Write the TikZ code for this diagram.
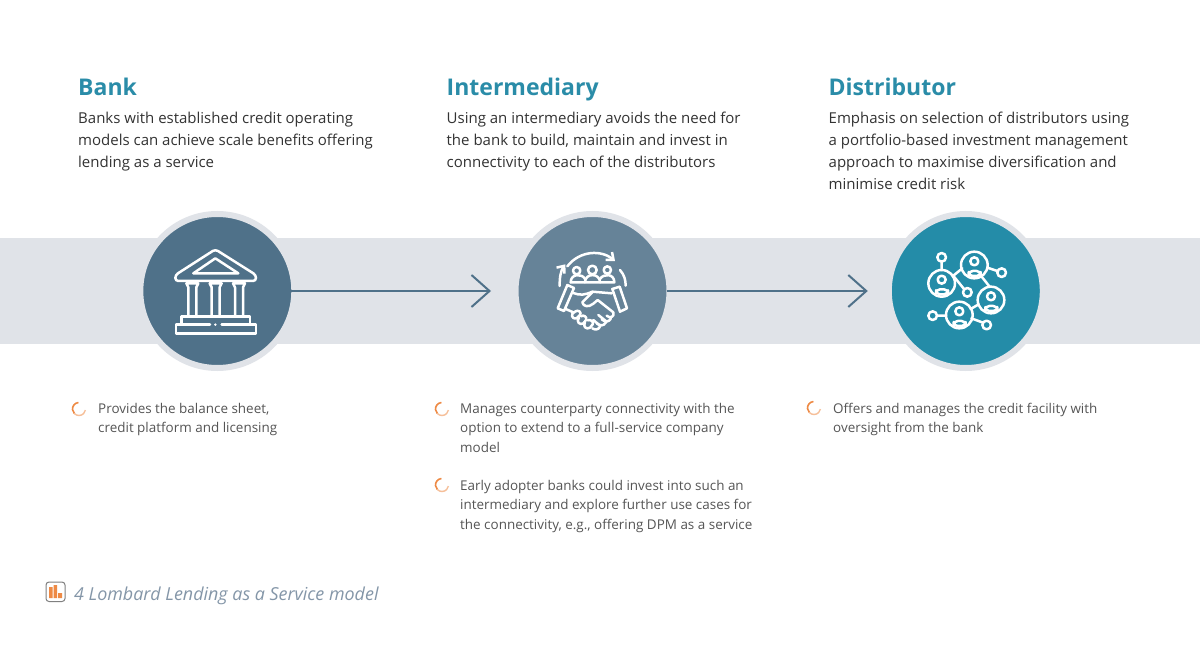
\documentclass[tikz,border=0pt]{standalone}
\usepackage{fontspec}
\setmainfont{Open Sans}
\usetikzlibrary{positioning,arrows.meta,calc}
\definecolor{bandgray}{HTML}{E0E3E8}
\definecolor{bankblue}{HTML}{4F7189}
\definecolor{midblue}{HTML}{668398}
\definecolor{distteal}{HTML}{248CA8}
\definecolor{headteal}{HTML}{2A8CA8}
\definecolor{bodygray}{HTML}{333333}
\definecolor{notegray}{HTML}{555555}
\definecolor{capgray}{HTML}{8496A8}
\definecolor{spinorange}{HTML}{EE8A45}
\tikzset{hub/.style={circle, minimum size=154pt, inner sep=0pt, draw=bandgray, line width=6pt, outer sep=-3pt}}
\tikzset{arr/.style={draw=bankblue, line width=2pt, -{Straight Barb[length=18pt,width=32pt,line width=2pt]}, shorten >=27.5pt}}
\tikzset{head/.style={anchor=base west, inner sep=0pt, text=headteal, font=\fontsize{23}{30}\selectfont\bfseries}}
\tikzset{body/.style={anchor=north west, inner sep=0pt, align=left, text=bodygray, font=\fontsize{15}{22}\selectfont}}
\tikzset{note/.style={anchor=north west, inner sep=0pt, align=left, text=notegray, font=\fontsize{13.45}{19.3}\selectfont}}
\tikzset{icon/.style={draw=white, line width=2.5pt, line join=round, line cap=round}}
\newcommand{\spinner}[1]{%
	\draw[spinorange, line width=1.6pt] ($(#1)+(265:6.5)$) arc[start angle=265,end angle=135,radius=6.5];
	\draw[spinorange!55, line width=1.4pt] ($(#1)+(135:6.5)$) arc[start angle=135,end angle=10,radius=6.5];
}
\begin{document}
\begin{tikzpicture}[x=1pt,y=-1pt]
	\useasboundingbox[fill=white] (0,0) rectangle (1200,647);
	\fill[bandgray] (0,238.5) rectangle (1200,344);
	\node[hub, fill=bankblue] (bank) at (217.3,291) {};
	\node[hub, fill=midblue] (inter) at (592.5,291) {};
	\node[hub, fill=distteal] (dist) at (965.8,291) {};
	\draw[arr] (bank) -- (inter);
	\draw[arr, shorten >=24pt] (inter) -- (dist);
%
	\node[head] (bankhead) at (78,96) {Bank};
	\node[head] (interhead) at (446.5,96) {Intermediary};
	\node[head] (disthead) at (828.5,96) {Distributor};
	\node[body] (banktext) at (78,112) {Banks with established credit operating\\models can achieve scale benefits offering\\lending as a service};
	\node[body] (intertext) at (446.5,112) {Using an intermediary avoids the need for\\the bank to build, maintain and invest in\\connectivity to each of the distributors};
	\node[body] (disttext) at (828.5,112) {Emphasis on selection of distributors using\\a portfolio-based investment management\\approach to maximise diversification and\\minimise credit risk};
%
	\node[note] (banknote) at (98,403) {Provides the balance sheet,\\credit platform and licensing};
	\node[note] (internote) at (460,403) {Manages counterparty connectivity with the\\option to extend to a full-service company\\model};
	\node[note] (internotetwo) at (460,480) {Early adopter banks could invest into such an\\intermediary and explore further use cases for\\the connectivity, e.g., offering DPM as a service};
	\node[note] (distnote) at (833,403) {Offers and manages the credit facility with\\oversight from the bank};
	\coordinate (s1) at (79,409);
	\coordinate (s2) at (442,409);
	\coordinate (s3) at (814,408);
	\coordinate (s4) at (442,485);
	\spinner{s1}
	\spinner{s2}
	\spinner{s3}
	\spinner{s4}
%
	% bank icon
	\begin{scope}[shift={(130,200)},scale=1/3,icon]
		\draw[rounded corners=3pt] (256,148) -- (136,225) -- (136,243) -- (378,243) -- (378,225) -- cycle;
		\draw (256,175) -- (190,220) -- (325,220) -- cycle;
		\foreach \cx in {187,257,327} {
			\draw (\cx-18,250) -- (\cx+18,250) -- (\cx+12,262) -- (\cx+12,348) (\cx-18,250) -- (\cx-12,262) -- (\cx-12,348);
		}
		\draw (155,372) -- (155,350) -- (360,350) -- (360,372);
		\draw (240,374) -- (138,374) -- (138,400) -- (378,400) -- (378,374) -- (275,374);
		\fill[white] (256,374) circle (4);
	\end{scope}
%
	% handshake icon
	\begin{scope}[shift={(505,205)},scale=1/3,icon]
		\draw[-{Straight Barb[length=6pt,width=10pt]}] (187,184) .. controls (225,135) and (290,135) .. (330,168);
		\draw[{Straight Barb[length=6pt,width=10pt]}-] (181,178) .. controls (168,195) and (163,220) .. (164,243);
		\draw (345,195) .. controls (358,210) and (362,225) .. (362,242);
		\draw (215,197) circle (11) (262,195) circle (13) (307,195) circle (11);
		\draw (197,232) .. controls (197,205) and (232,205) .. (240,222);
		\draw (240,232) .. controls (240,203) and (285,203) .. (285,232);
		\draw (285,222) .. controls (295,205) and (328,205) .. (328,232) -- (197,232);
		\draw (187,240) -- (207,249) -- (177,318) -- (158,310) -- cycle;
		\draw (322,252) -- (344,245) -- (366,310) -- (345,320) -- cycle;
		\draw (205,264) .. controls (225,272) and (240,270) .. (262,260) -- (320,265);
		\draw (262,262) -- (232,292) .. controls (235,305) and (250,308) .. (265,296) -- (278,285) -- (325,322) .. controls (330,335) and (315,342) .. (305,332);
		\draw (318,340) .. controls (312,352) and (300,352) .. (290,343);
		\draw (303,352) .. controls (295,365) and (285,362) .. (275,355);
		\draw (285,365) .. controls (280,375) and (270,375) .. (262,370);
		\draw (182,312) -- (205,322);
		\draw (210,320) .. controls (195,325) and (200,345) .. (215,340) -- (225,330) .. controls (232,322) and (218,312) .. (210,320);
		\draw (222,338) .. controls (212,350) and (225,362) .. (235,355) -- (243,345) .. controls (248,336) and (235,328) .. (228,334);
		\draw (240,352) .. controls (232,365) and (245,375) .. (255,368) -- (263,358) .. controls (268,350) and (255,342) .. (248,346);
		\draw (280,330) -- (305,350) (265,345) -- (285,362);
	\end{scope}
%
	% network icon
	\begin{scope}[shift={(880,205)},scale=1/3,icon]
		\foreach \cx/\cy in {185/235,283/180,333/285,238/330} {
			\draw (\cx,\cy) circle (40);
			\draw (\cx,\cy-11) circle (12);
			\draw[rounded corners=4pt] (\cx-17,\cy+18) rectangle (\cx+19,\cy+33);
		}
		\foreach \cx/\cy in {185/157,365/203,262/262,158/332,320/360} {
			\draw (\cx,\cy) circle (13);
		}
		\draw (185,170) -- (185,195) (220,212) -- (247,190) (322,188) -- (352,198)
			(222,215) -- (252,252) (305,215) -- (328,244) (272,312) -- (296,298)
			(171,332) -- (198,332) (274,340) -- (309,353);
	\end{scope}
%
	% caption
	\draw[draw=gray, line width=1pt, rounded corners=3pt] (46,582) rectangle (65,601.5);
	\fill[spinorange] (49,587) rectangle (52.5,598) (53.5,585) rectangle (57,598) (58,593) rectangle (62,598);
	\node[anchor=west, inner sep=0pt, text=capgray, font=\fontsize{17.9}{22}\selectfont\itshape] (caption) at (74,596) {4 Lombard Lending as a Service model};
\end{tikzpicture}
\end{document}
